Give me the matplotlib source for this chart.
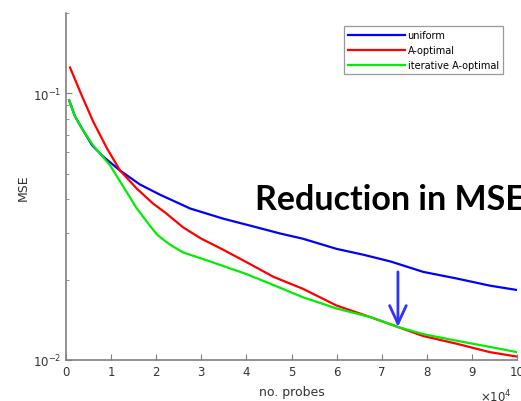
import matplotlib
matplotlib.use("Agg")
import matplotlib.pyplot as plt
from matplotlib.ticker import LogLocator, NullFormatter, FixedLocator

# data (x in units of 1e4 probes)
uniform_x = [0.07, 0.2, 0.38, 0.58, 0.82, 1.2, 1.64, 2.08, 2.75, 3.48, 4.24, 4.75, 5.25, 6.0, 6.6, 7.2, 7.92, 8.67, 9.4, 10.0]
uniform_y = [0.0941, 0.0819, 0.0726, 0.0638, 0.0580, 0.0513, 0.0455, 0.0417, 0.0370, 0.0339, 0.0314, 0.0298, 0.0285, 0.0261, 0.0248, 0.0234, 0.0214, 0.0202, 0.0190, 0.0183]

aopt_x = [0.09, 0.31, 0.6, 0.91, 1.2, 1.57, 1.93, 2.2, 2.6, 3.0, 3.45, 4.1, 4.6, 5.25, 6.0, 6.74, 7.36, 7.92, 8.67, 9.4, 10.0]
aopt_y = [0.1249, 0.1017, 0.0785, 0.0621, 0.0513, 0.0439, 0.0386, 0.0357, 0.0314, 0.0285, 0.0261, 0.0228, 0.0205, 0.0185, 0.0160, 0.0145, 0.0133, 0.0123, 0.0115, 0.0107, 0.0103]

iter_x = [0.07, 0.2, 0.38, 0.6, 0.98, 1.35, 1.57, 1.86, 2.02, 2.3, 2.6, 3.2, 4.0, 4.6, 5.25, 6.0, 6.74, 7.36, 7.92, 8.67, 9.4, 10.0]
iter_y = [0.0941, 0.0819, 0.0726, 0.0638, 0.0536, 0.0425, 0.0370, 0.0319, 0.0295, 0.0271, 0.0253, 0.0234, 0.0210, 0.0191, 0.0172, 0.0156, 0.0145, 0.0133, 0.0125, 0.0118, 0.0112, 0.0107]

series_labels = ["uniform", "A-optimal", "iterative A-optimal"]
x_ticks = [0, 1, 2, 3, 4, 5, 6, 7, 8, 9, 10]

fig = plt.figure(figsize=(5.21, 4.02), dpi=100)
ax = fig.add_axes([66/521, 41/402, 451/521, 347/402])

ax.plot(uniform_x, uniform_y, color="#0000ff", lw=1.6, label=series_labels[0])
ax.plot(aopt_x, aopt_y, color="#ff0000", lw=1.6, label=series_labels[1])
ax.plot(iter_x, iter_y, color="#00ee00", lw=1.6, label=series_labels[2])

ax.set_yscale("log")
ax.set_xlim(0, 10)
ax.set_ylim(0.01, 0.2)
ax.set_xticks(x_ticks)
ax.set_xticklabels([str(t) for t in x_ticks])
ax.yaxis.set_major_locator(FixedLocator([0.01, 0.1]))
ax.set_yticklabels(["$10^{-2}$", "$10^{-1}$"])
ax.yaxis.set_minor_locator(LogLocator(base=10, subs=range(2, 10)))
ax.yaxis.set_minor_formatter(NullFormatter())

gray = "#808080"
for s in ["top", "right"]:
    ax.spines[s].set_visible(False)
for s in ["left", "bottom"]:
    ax.spines[s].set_color(gray)
    ax.spines[s].set_linewidth(1.2)
ax.tick_params(axis="both", which="both", direction="in", color=gray, labelcolor="#333333", labelsize=8.5)
ax.tick_params(which="major", length=4)
ax.tick_params(which="minor", length=2.5)

ax.set_xlabel("no. probes", fontsize=9, color="#333333", labelpad=5)
ax.set_ylabel("MSE", fontsize=9, color="#333333", labelpad=2)
fig.text(480/521, 1 - 397/402, r"$\times10^{4}$", fontsize=8.5, color="#333333", va="center", ha="left")

leg = ax.legend(loc="upper right", bbox_to_anchor=(503/521, 1 - 27/402), bbox_transform=fig.transFigure,
                fontsize=7, frameon=True, fancybox=False, handlelength=5.8, handletextpad=0.3,
                borderpad=0.45, labelspacing=0.5, borderaxespad=0)
leg.get_frame().set_edgecolor(gray)
leg.get_frame().set_linewidth(0.9)

ax.annotate("", xy=(7.36, 0.0133), xytext=(7.36, 0.0214),
            arrowprops=dict(arrowstyle="->,head_length=1.3,head_width=0.6", lw=2, color="#3030ff",
                            shrinkA=0, shrinkB=0))

fig.text(255/521, 1 - 210/402, "Reduction in MSE", fontsize=24.5, fontweight="bold",
         family=["Lato", "DejaVu Sans"], color="black", va="baseline", ha="left")

fig.savefig("out.png", dpi=100)
